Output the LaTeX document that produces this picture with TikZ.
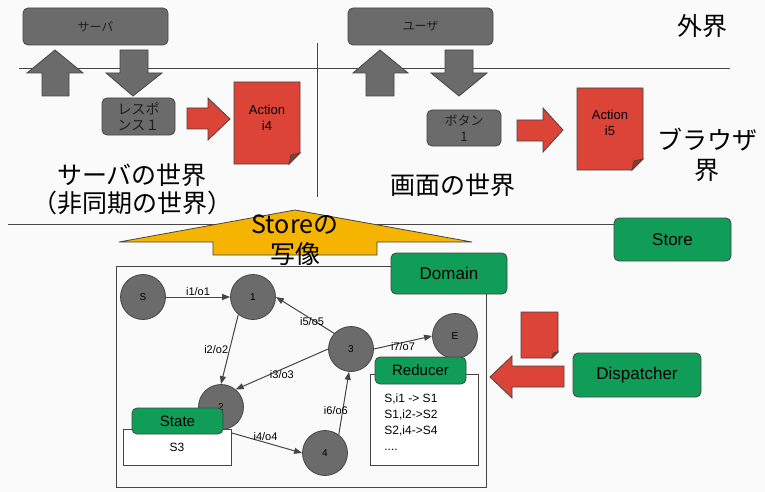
\documentclass[tikz,border=0pt]{standalone}
\usepackage{fontspec}
\setmainfont{Liberation Sans}
\newfontfamily\jp{Noto Sans CJK JP}
\usepackage{xcolor}
\usetikzlibrary{positioning,arrows.meta}
\definecolor{bggray}{HTML}{FAFAFA}
\definecolor{boxgray}{HTML}{6B6B6B}
\definecolor{edgegray}{HTML}{454545}
\definecolor{docred}{HTML}{DB4437}
\definecolor{foldred}{HTML}{A33327}
\definecolor{taggreen}{HTML}{0F9D58}
\definecolor{mapyellow}{HTML}{F4B400}
\definecolor{darktext}{HTML}{1E1E1E}

\begin{document}
\begin{tikzpicture}[x=1pt,y=-1pt,line width=0.8pt,
    graybox/.style={draw=edgegray, fill=boxgray, rounded corners=5pt, inner sep=0pt, align=center, text=darktext, font=\jp\fontsize{12}{15}\selectfont},
    greenbox/.style={draw=edgegray, fill=taggreen, rounded corners=5pt, inner sep=0pt, font=\fontsize{17}{20}\selectfont},
    whitebox/.style={draw=edgegray, fill=white, inner sep=0pt},
    stnode/.style={circle, draw=edgegray, fill=boxgray, minimum size=45pt, inner sep=0pt, font=\fontsize{10}{12}\selectfont},
    lbl/.style={inner sep=1pt, font=\fontsize{11}{13}\selectfont},
    edge/.style={draw=edgegray, line width=1pt, -{Triangle[length=8pt,width=6pt]}},
    big/.style={align=center, font=\jp\fontsize{25}{30}\selectfont}]
    % Background
    \useasboundingbox (0,0) rectangle (765,492);
    \fill[bggray] (0,0) rectangle (765,492);

    % Borders of the worlds
    \draw[edgegray] (19,68) -- (730,68);
    \draw[edgegray] (317,43) -- (317,197);
    \coordinate (cut) at (0,224);
    \node[greenbox, minimum width=117pt, minimum height=43pt] (store) at (672.5,239.5) {Store};
    \draw[edgegray] (8,224) -- (cut -| store.west);

    % Outside
    \node[graybox, minimum width=145pt, minimum height=37pt] (server) at (95.5,26.5) {サーバ};
    \node[graybox, minimum width=145pt, minimum height=37pt] (user) at (420.5,26.5) {ユーザ};
    \node[big] (outside) at (702,26) {外界};

    % In and out
    \filldraw[fill=boxgray, draw=edgegray] (55,50) -- (83,73) -- (69,73) -- (69,96) -- (42,96) -- (42,73) -- (27,73) -- cycle;
    \filldraw[fill=boxgray, draw=edgegray] (120,50) -- (148,50) -- (148,73) -- (162,73) -- (133,96) -- (106,73) -- (120,73) -- cycle;
    \filldraw[fill=boxgray, draw=edgegray] (380,50) -- (408,73) -- (394,73) -- (394,96) -- (366,96) -- (366,73) -- (353,73) -- cycle;
    \filldraw[fill=boxgray, draw=edgegray] (445,50) -- (473,50) -- (473,73) -- (487,73) -- (459,96) -- (431,73) -- (445,73) -- cycle;

    % Server world
    \node[graybox, minimum width=73pt, minimum height=37pt, font=\jp\fontsize{14}{16}\selectfont] (resp) at (138.5,116.5) {レスポ\\ンス１};
    \filldraw[fill=docred, draw=edgegray] (187,108) -- (208,108) -- (208,98) -- (230,119) -- (208,140) -- (208,129) -- (187,129) -- cycle;
    \filldraw[fill=docred, draw=edgegray] (234,82) -- (300,82) -- (300,153) -- (289,164) -- (234,164) -- cycle;
    \filldraw[fill=foldred, draw=edgegray] (300,153) -- (289,164) -- (291,155) -- cycle;
    \node[align=center, font=\fontsize{13}{16}\selectfont] (act4) at (267,118) {Action\\i4};
    \node[big, font=\jp\fontsize{25}{28}\selectfont] (srvworld) at (132,189) {サーバの世界\\（非同期の世界）};

    % Screen world
    \node[graybox, minimum width=74pt, minimum height=36pt, font=\jp\fontsize{13}{16}\selectfont] (btn) at (464,128) {ボタン\\1};
    \filldraw[fill=docred, draw=edgegray] (517,120) -- (543,120) -- (543,108) -- (563,130) -- (543,152) -- (543,141) -- (517,141) -- cycle;
    \filldraw[fill=docred, draw=edgegray] (577,88) -- (643,88) -- (643,159) -- (632,170) -- (577,170) -- cycle;
    \filldraw[fill=foldred, draw=edgegray] (643,159) -- (632,170) -- (634,161) -- cycle;
    \node[align=center, font=\fontsize{13}{16}\selectfont] (act5) at (610,123) {Action\\i5};
    \node[big] (scrworld) at (453,185) {画面の世界};
    \node[big] (browser) at (707,155) {ブラウザ\\界};

    % Store mapping
    \filldraw[fill=mapyellow, draw=edgegray] (295,210) -- (472,242) -- (377,242) -- (377,255) -- (213,255) -- (213,242) -- (119,242) -- cycle;
    \node[big] (mapping) at (295,240) {Store{\jp の}\\写像};

    % Domain
    \draw[edgegray, fill=bggray] (116,266) rectangle (486,487);
    \node[greenbox, minimum width=116pt, minimum height=41pt] (domain) at (449,273.5) {Domain};

    \node[stnode] (s) at (143,297) {S};
    \node[stnode] (n1) at (253,297) {1};
    \node[stnode] (n2) at (221,407) {2};
    \node[stnode] (n3) at (351,349) {3};
    \node[stnode] (n4) at (325,453) {4};
    \node[stnode] (e) at (455,336) {E};

    \draw[edge] (s) -- node[lbl, above] {i1/o1} (n1);
    \draw[edge] (n1.230) -- node[lbl, left] {i2/o2} (n2.north);
    \draw[edge] (n3.137) -- node[lbl, xshift=7pt, yshift=-6pt] {i5/o5} (n1.east);
    \draw[edge] (n3.east) -- node[lbl, yshift=-4pt] {i7/o7} (e.west);
    \draw[edge] (n3.west) -- node[lbl, yshift=-5pt] {i3/o3} (n2.50);
    \draw[edge] (n2.south) -- node[lbl, xshift=4pt, yshift=5pt] {i4/o4} (n4.west);
    \draw[edge] (n4.53) -- node[lbl, xshift=-8pt, yshift=-7pt] {i6/o6} (n3.265);

    % State
    \node[whitebox, minimum width=108pt, minimum height=36pt, font=\fontsize{12}{14}\selectfont, text depth=0pt] (statebox) at (177,447) {S3};
    \node[greenbox, minimum width=91pt, minimum height=26pt, font=\fontsize{15}{18}\selectfont] (state) at (177.5,421) {State};

    % Reducer
    \node[whitebox, minimum width=108pt, minimum height=91pt] (redbox) at (424,419.5) {};
    \node[greenbox, minimum width=91pt, minimum height=27pt, font=\fontsize{15}{18}\selectfont] (reducer) at (420.5,370.5) {Reducer};
    \node[anchor=north west, align=left, inner sep=0pt, font=\fontsize{12}{16}\selectfont] (rules) at (384,393) {S,i1 -> S1\\S1,i2->S2\\S2,i4->S4\\....};

    % Dispatch
    \node[greenbox, minimum width=128pt, minimum height=44pt] (dispatcher) at (637,375) {Dispatcher};
    \filldraw[fill=docred, draw=edgegray] (564,366) -- (512,366) -- (512,356) -- (490,377) -- (512,398) -- (512,387) -- (564,387) -- cycle;
    \filldraw[fill=docred, draw=edgegray] (521,312) -- (558,312) -- (558,352) -- (552,358) -- (521,358) -- cycle;
    \filldraw[fill=foldred, draw=edgegray] (558,352) -- (552,358) -- (553,353) -- cycle;
\end{tikzpicture}
\end{document}
